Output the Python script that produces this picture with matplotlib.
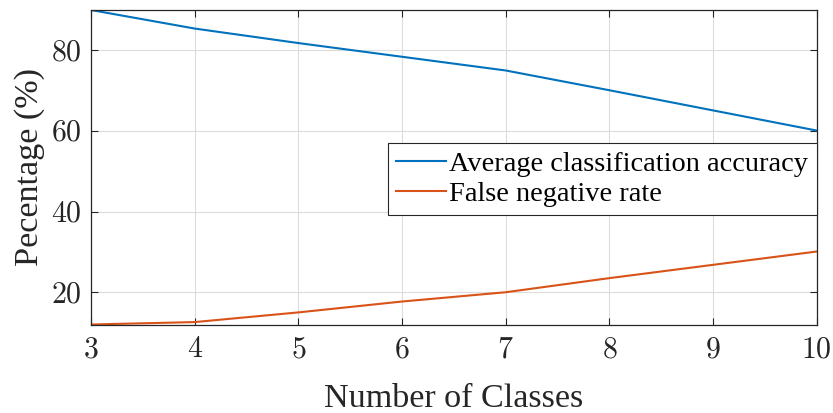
import matplotlib
matplotlib.use("Agg")
import matplotlib.pyplot as plt

classes = [3, 4, 5, 6, 7, 8, 9, 10]
accuracy = [90, 85.4, 81.8, 78.4, 75.0, 70.1, 65.1, 60.1]
fnr = [12, 12.6, 15.0, 17.7, 20.0, 23.5, 26.8, 30.1]
xticks = [3, 4, 5, 6, 7, 8, 9, 10]
yticks = [20, 40, 60, 80]

plt.rcParams['font.family'] = ['Liberation Serif', 'DejaVu Serif']
plt.rcParams['mathtext.fontset'] = 'cm'

fig = plt.figure(figsize=(8.33, 4.13), dpi=100)
ax = fig.add_axes([91/833, 1-324.5/413, (816.7-91)/833, (324.5-10)/413])

ax.plot(classes, accuracy, color='#0072BD', lw=1.5, label='Average classification accuracy')
ax.plot(classes, fnr, color='#D95319', lw=1.5, label='False negative rate')

ax.set_xlim(3, 10)
ax.set_ylim(12, 90)
ax.set_xticks(xticks)
ax.set_xticklabels([f'${t}$' for t in xticks])
ax.set_yticks(yticks)
ax.set_yticklabels([f'${t}$' for t in yticks])
ax.tick_params(direction='in', top=True, right=True, length=5, width=0.8,
               colors='#262626', labelsize=21.5)
ax.tick_params(axis='y', pad=7)
ax.tick_params(axis='x', pad=9)
for s in ax.spines.values():
    s.set_color('#262626')
    s.set_linewidth(0.9)
ax.grid(True, color='#dcdcdc', lw=0.8)
ax.set_axisbelow(True)

ax.set_xlabel('Number of Classes', fontsize=24.6, color='#262626', labelpad=15)
ax.set_ylabel('Pecentage (%)', fontsize=24.6, color='#262626', labelpad=4)

leg = ax.legend(loc='upper right', bbox_to_anchor=(1.0, 0.577), fontsize=20.4,
                frameon=True, fancybox=False, edgecolor='#262626', framealpha=1,
                borderaxespad=0, borderpad=0.3, handlelength=1.75, handletextpad=0.12,
                labelspacing=0.12)
leg.get_frame().set_linewidth(0.8)

fig.savefig('out.png', dpi=100)
